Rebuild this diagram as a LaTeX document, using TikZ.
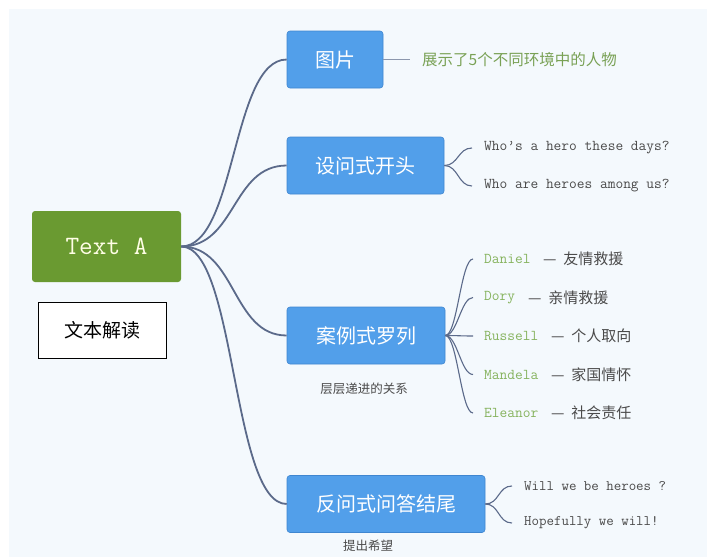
\documentclass[tikz,border=0pt]{standalone}
\usepackage{fontspec}
\newfontfamily\cjk{Noto Sans CJK SC}
\newcommand\monof{\ttfamily}
\definecolor{bgc}{HTML}{F4F9FD}
\definecolor{greenbox}{HTML}{6A9A31}
\definecolor{bluebox}{HTML}{529FEA}
\definecolor{bluedge}{HTML}{3F86D0}
\definecolor{linec}{HTML}{5B6A8A}
\definecolor{namec}{HTML}{86B35E}
\definecolor{txtc}{HTML}{4A4A4A}
\begin{document}
\begin{tikzpicture}[x=1pt,y=-1pt,
  bluenode/.style={rectangle,rounded corners=3pt,fill=bluebox,draw=bluedge,line width=0.6pt,text=white,font=\cjk\fontsize{20}{24}\selectfont,minimum height=57pt,inner sep=0pt},
  mainline/.style={draw=linec,line width=1.8pt},
  subline/.style={draw=linec,line width=1.1pt},
  engtext/.style={anchor=west,inner sep=0pt,text=txtc,font=\monof\fontsize{15}{18}\selectfont},
  casetext/.style={anchor=west,inner sep=0pt,text=txtc,font=\cjk\fontsize{15}{18}\selectfont},
  notetext/.style={inner sep=0pt,text=txtc,font=\cjk\fontsize{12.5}{15}\selectfont}
]
\useasboundingbox (0,0) rectangle (707,557);
\fill[white] (0,0) rectangle (707,557);
\fill[bgc] (9,9) rectangle (707,557);

% root
\node[rectangle,rounded corners=3pt,fill=greenbox,minimum width=149pt,minimum height=71pt,inner sep=0pt,text=white!90!yellow,font=\monof\fontsize{26.5}{31}\selectfont] (ta) at (106.5,246.5) {Text A};
\node[rectangle,draw=black,line width=1pt,fill=white,minimum width=128pt,minimum height=56pt,inner sep=0pt,font=\cjk\fontsize{19}{22}\selectfont] (wb) at (102,330) {文本解读};

% branches
\node[bluenode,minimum width=96pt] (p1) at (335,59.5) {图片};
\node[bluenode,minimum width=157pt] (p2) at (365.5,165.5) {设问式开头};
\node[bluenode,minimum width=158pt] (p3) at (366,335.5) {案例式罗列};
\node[bluenode,minimum width=198pt] (p4) at (386,504) {反问式问答结尾};

\foreach \t in {p1,p2,p3,p4}
  \draw[mainline] (ta.east) .. controls +(55,0) and +(-55,0) .. (\t.west);

% 图片 note
\node[anchor=west,inner sep=0pt,text=namec!90!black,font=\cjk\fontsize{15.5}{18}\selectfont] (n1) at (422,59.5) {展示了5个不同环境中的人物};
\draw[subline,draw=linec!70] (p1.east) -- ([xshift=-12pt]n1.west);

% 设问式
\node[engtext] (q1) at (484,148) {Who’s a hero these days?};
\node[engtext] (q2) at (484,186) {Who are heroes among us?};
\foreach \t in {q1,q2}
  \draw[subline] (p2.east) .. controls +(14,0) and +(-14,0) .. ([xshift=-12pt]\t.west);

% 案例式
\node[engtext,text=namec] (c1) at (484,259) {Daniel};
\node[casetext] (d1) at (543,259) {— \ 友情救援};
\node[engtext,text=namec] (c2) at (484,297.5) {Dory};
\node[casetext] (d2) at (528,297.5) {— \ 亲情救援};
\node[engtext,text=namec] (c3) at (484,336) {Russell};
\node[casetext] (d3) at (551,336) {— \ 个人取向};
\node[engtext,text=namec] (c4) at (484,374.5) {Mandela};
\node[casetext] (d4) at (551,374.5) {— \ 家国情怀};
\node[engtext,text=namec] (c5) at (484,413) {Eleanor};
\node[casetext] (d5) at (551,413) {— \ 社会责任};
\foreach \t in {c1,c2,c3,c4,c5}
  \draw[subline] (p3.east) .. controls +(12,0) and +(-12,0) .. ([xshift=-11pt]\t.west);
\node[notetext] (s3) at (364,389) {层层递进的关系};

% 反问式
\node[engtext,font=\monof\fontsize{14.5}{17}\selectfont] (w1) at (524,486) {Will we be heroes ?};
\node[engtext,font=\monof\fontsize{14.5}{17}\selectfont] (w2) at (524,523) {Hopefully we will!};
\foreach \t in {w1,w2}
  \draw[subline] (p4.east) .. controls +(14,0) and +(-14,0) .. ([xshift=-12pt]\t.west);
\node[notetext] (s4) at (368,546) {提出希望};
\end{tikzpicture}
\end{document}
